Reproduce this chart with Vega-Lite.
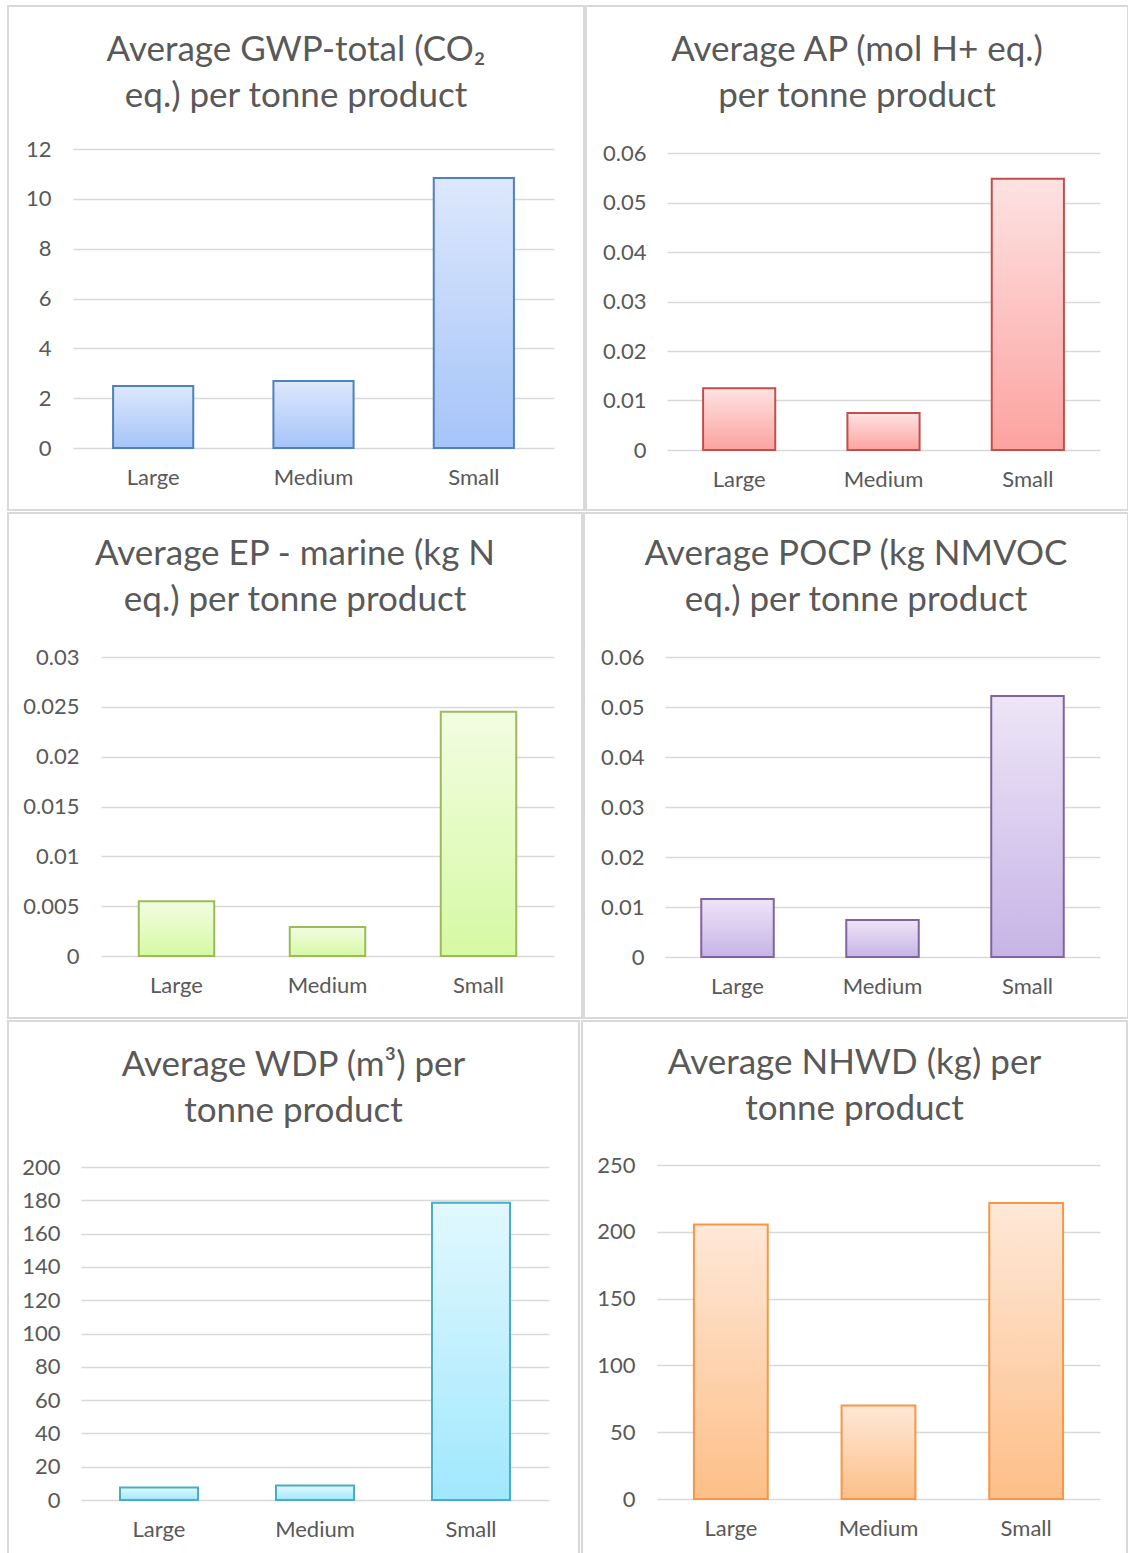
{
  "$schema": "https://vega.github.io/schema/vega-lite/v6.json",
  "background": "white",
  "padding": {"left": 7, "top": 5, "right": 0, "bottom": 0},
  "datasets": {
    "gwp": [{"size": "Large", "value": 2.49}, {"size": "Medium", "value": 2.69}, {"size": "Small", "value": 10.84}],
    "ap": [{"size": "Large", "value": 0.0125}, {"size": "Medium", "value": 0.00746}, {"size": "Small", "value": 0.0548}],
    "ep": [{"size": "Large", "value": 0.0055}, {"size": "Medium", "value": 0.0029}, {"size": "Small", "value": 0.0245}],
    "pocp": [{"size": "Large", "value": 0.0116}, {"size": "Medium", "value": 0.0074}, {"size": "Small", "value": 0.0522}],
    "wdp": [{"size": "Large", "value": 7.5}, {"size": "Medium", "value": 8.7}, {"size": "Small", "value": 178.6}],
    "nhwd": [{"size": "Large", "value": 205.5}, {"size": "Medium", "value": 69.9}, {"size": "Small", "value": 221.5}]
  },
  "config": {
    "view": {"stroke": "#d9d9d9", "strokeWidth": 2},
    "axis": {"labelFont": "Lato", "labelFontSize": 22, "labelColor": "#595959", "ticks": false, "tickSize": 0, "domain": false, "gridColor": "#d9d9d9", "gridWidth": 1.5, "title": null},
    "title": {"font": "Lato", "fontSize": 35, "fontWeight": "normal", "color": "#595959", "lineHeight": 46, "anchor": "middle", "frame": "group"}
  },
  "vconcat": [
    {
      "hconcat": [
        {
          "width": 576, "height": 504,
          "data": {"name": "gwp"},
          "title": {"text": ["Average GWP-total (CO₂", "eq.) per tonne product"], "offset": -108},
          "mark": {"type": "bar", "stroke": "#4f81bd", "strokeWidth": 2, "fill": {"gradient": "linear", "x1": 0, "y1": 0, "x2": 0, "y2": 1, "stops": [{"offset": 0, "color": "#dde8fc"}, {"offset": 1, "color": "#a5c4f9"}]}},
          "encoding": {
            "x": {"field": "size", "type": "nominal", "sort": null, "scale": {"range": [65, 546], "paddingInner": 0.5, "paddingOuter": 0.25}, "axis": {"labelAngle": 0, "offset": -62, "labelPadding": 19, "grid": false}},
            "y": {"field": "value", "type": "quantitative", "scale": {"domain": [0, 12], "range": [442, 143], "nice": false}, "axis": {"values": [0, 2, 4, 6, 8, 10, 12], "offset": -43, "labelPadding": 0, "format": "~r"}}
          }
        },
        {
          "width": 542, "height": 504,
          "data": {"name": "ap"},
          "title": {"text": ["Average AP (mol H+ eq.)", "per tonne product"], "offset": -108},
          "mark": {"type": "bar", "stroke": "#c0504d", "strokeWidth": 2, "fill": {"gradient": "linear", "x1": 0, "y1": 0, "x2": 0, "y2": 1, "stops": [{"offset": 0, "color": "#fde2e2"}, {"offset": 1, "color": "#fca3a0"}]}},
          "encoding": {
            "x": {"field": "size", "type": "nominal", "sort": null, "scale": {"range": [81, 514], "paddingInner": 0.5, "paddingOuter": 0.25}, "axis": {"labelAngle": 0, "offset": -60, "labelPadding": 19, "grid": false}},
            "y": {"field": "value", "type": "quantitative", "scale": {"domain": [0, 0.06], "range": [444, 147], "nice": false}, "axis": {"values": [0, 0.01, 0.02, 0.03, 0.04, 0.05, 0.06], "offset": -60, "labelPadding": 0, "format": "~r"}}
          }
        }
      ],
      "spacing": 0
    },
    {
      "hconcat": [
        {
          "width": 574, "height": 505,
          "data": {"name": "ep"},
          "title": {"text": ["Average EP - marine (kg N", "eq.) per tonne product"], "offset": -105},
          "mark": {"type": "bar", "stroke": "#9bbb59", "strokeWidth": 2, "fill": {"gradient": "linear", "x1": 0, "y1": 0, "x2": 0, "y2": 1, "stops": [{"offset": 0, "color": "#f2fde2"}, {"offset": 1, "color": "#d6f9a3"}]}},
          "encoding": {
            "x": {"field": "size", "type": "nominal", "sort": null, "scale": {"range": [93, 546], "paddingInner": 0.5, "paddingOuter": 0.25}, "axis": {"labelAngle": 0, "offset": -62, "labelPadding": 19, "grid": false}},
            "y": {"field": "value", "type": "quantitative", "scale": {"domain": [0, 0.03], "range": [443, 144], "nice": false}, "axis": {"values": [0, 0.005, 0.01, 0.015, 0.02, 0.025, 0.03], "offset": -71, "labelPadding": 0, "format": "~r"}}
          }
        },
        {
          "width": 544, "height": 505,
          "data": {"name": "pocp"},
          "title": {"text": ["Average POCP (kg NMVOC", "eq.) per tonne product"], "offset": -105},
          "mark": {"type": "bar", "stroke": "#8064a2", "strokeWidth": 2, "fill": {"gradient": "linear", "x1": 0, "y1": 0, "x2": 0, "y2": 1, "stops": [{"offset": 0, "color": "#ede5f7"}, {"offset": 1, "color": "#c7b4e6"}]}},
          "encoding": {
            "x": {"field": "size", "type": "nominal", "sort": null, "scale": {"range": [81, 516], "paddingInner": 0.5, "paddingOuter": 0.25}, "axis": {"labelAngle": 0, "offset": -61, "labelPadding": 19, "grid": false}},
            "y": {"field": "value", "type": "quantitative", "scale": {"domain": [0, 0.06], "range": [444, 144], "nice": false}, "axis": {"values": [0, 0.01, 0.02, 0.03, 0.04, 0.05, 0.06], "offset": -60, "labelPadding": 0, "format": "~r"}}
          }
        }
      ],
      "spacing": 0
    },
    {
      "hconcat": [
        {
          "width": 571, "height": 540,
          "data": {"name": "wdp"},
          "title": {"text": ["Average WDP (m³) per", "tonne product"], "offset": -108},
          "mark": {"type": "bar", "stroke": "#4bacc6", "strokeWidth": 2, "fill": {"gradient": "linear", "x1": 0, "y1": 0, "x2": 0, "y2": 1, "stops": [{"offset": 0, "color": "#e2f8fe"}, {"offset": 1, "color": "#a0e8fd"}]}},
          "encoding": {
            "x": {"field": "size", "type": "nominal", "sort": null, "scale": {"range": [73, 541], "paddingInner": 0.5, "paddingOuter": 0.25}, "axis": {"labelAngle": 0, "offset": -61, "labelPadding": 19, "grid": false}},
            "y": {"field": "value", "type": "quantitative", "scale": {"domain": [0, 200], "range": [479, 146], "nice": false}, "axis": {"values": [0, 20, 40, 60, 80, 100, 120, 140, 160, 180, 200], "offset": -52, "labelPadding": 0, "format": "d"}}
          }
        },
        {
          "width": 545, "height": 540,
          "data": {"name": "nhwd"},
          "title": {"text": ["Average NHWD (kg) per", "tonne product"], "offset": -106},
          "mark": {"type": "bar", "stroke": "#f79646", "strokeWidth": 2, "fill": {"gradient": "linear", "x1": 0, "y1": 0, "x2": 0, "y2": 1, "stops": [{"offset": 0, "color": "#fee8d8"}, {"offset": 1, "color": "#fdbf88"}]}},
          "encoding": {
            "x": {"field": "size", "type": "nominal", "sort": null, "scale": {"range": [75, 518], "paddingInner": 0.5, "paddingOuter": 0.25}, "axis": {"labelAngle": 0, "offset": -62, "labelPadding": 19, "grid": false}},
            "y": {"field": "value", "type": "quantitative", "scale": {"domain": [0, 250], "range": [478, 144], "nice": false}, "axis": {"values": [0, 50, 100, 150, 200, 250], "offset": -53, "labelPadding": 0, "format": "d"}}
          }
        }
      ],
      "spacing": 1
    }
  ],
  "spacing": 1
}
